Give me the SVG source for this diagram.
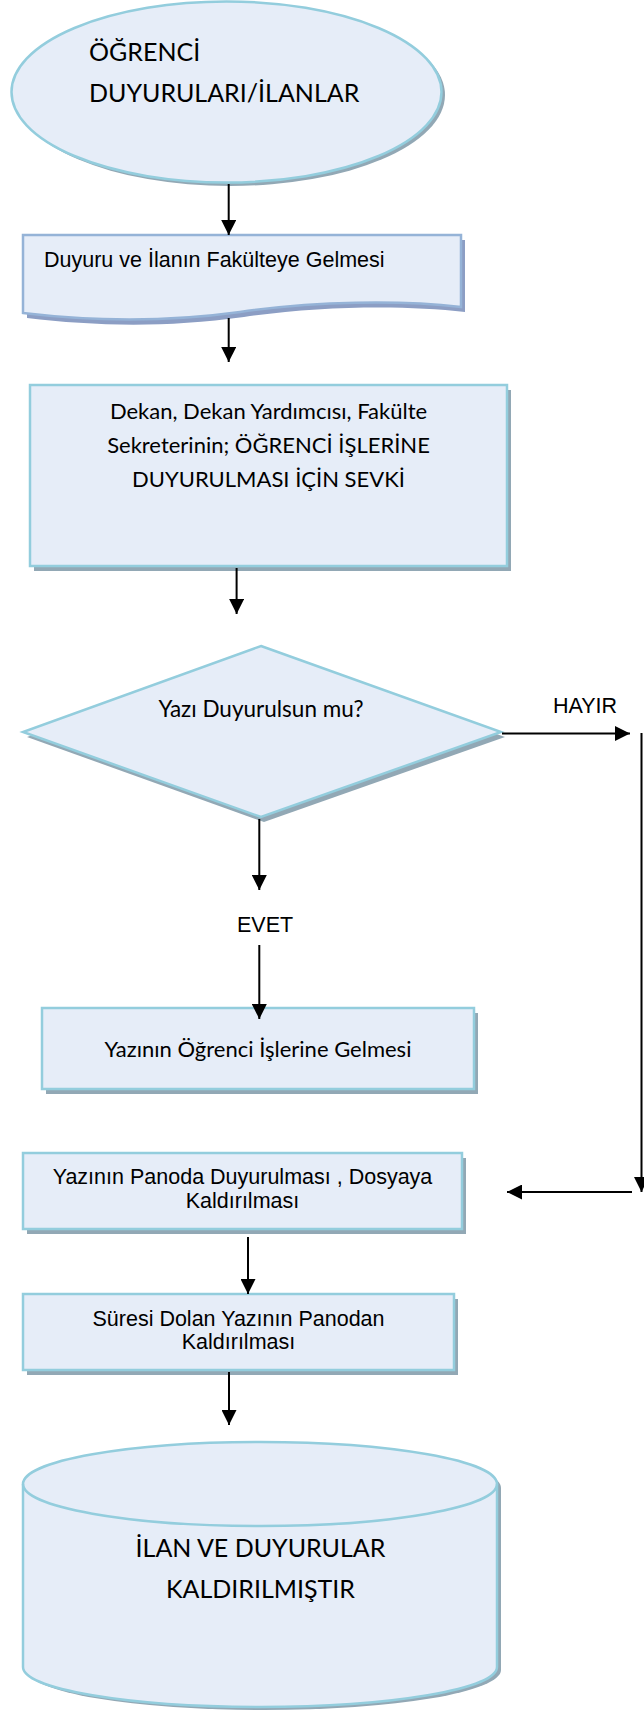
<svg xmlns="http://www.w3.org/2000/svg" width="644" height="1710" viewBox="0 0 644 1710">
<defs>
<marker id="ah" viewBox="0 0 15 15" refX="15" refY="7.5" markerWidth="15" markerHeight="15" markerUnits="userSpaceOnUse" orient="auto">
<path d="M0,0 L15,7.5 L0,15 Z" fill="#000"/>
</marker>
</defs>
<style>
.sh{fill:#92a8b5;stroke:none}
.sh2{fill:#8c9ec4;stroke:none}
.nd{fill:#e6edf8;stroke:#93cddd;stroke-width:2.5}
.nd2{fill:#e6edf8;stroke:#95b3d7;stroke-width:2.5}
.cal{font-family:Lato,"Open Sans",sans-serif;fill:#000}
.ar{font-family:"Liberation Sans",Arial,sans-serif;fill:#000;font-size:21.5px}
.cn{stroke:#000;stroke-width:2;fill:none;marker-end:url(#ah)}
</style>
<g id="start">
<ellipse class="sh" cx="230" cy="95" rx="215" ry="91"/>
<ellipse class="nd" cx="226.5" cy="92" rx="215" ry="90.5"/>
<text class="cal" font-size="25" x="89" y="61">ÖĞRENCİ</text>
<text class="cal" font-size="25" x="89" y="102">DUYURULARI/İLANLAR</text>
</g>
<g id="n1">
<path class="sh2" d="M27,240 H465 V312 C404,305 320,306 244,317 C164,328 94,326 27,318 Z"/>
<path class="nd2" d="M23,235 H461 V307 C400,300 316,301 240,312 C160,323 90,321 23,313 Z"/>
<text class="ar" x="44" y="267">Duyuru ve İlanın Fakülteye Gelmesi</text>
</g>
<g id="n2">
<rect class="sh" x="34" y="390" width="477" height="181"/>
<rect class="nd" x="30" y="385" width="477" height="181"/>
<text class="cal" font-size="22" text-anchor="middle" x="268.5" y="419">Dekan, Dekan Yardımcısı, Fakülte</text>
<text class="cal" font-size="22" text-anchor="middle" x="268.5" y="453">Sekreterinin; ÖĞRENCİ İŞLERİNE</text>
<text class="cal" font-size="22" text-anchor="middle" x="268.5" y="487">DUYURULMASI İÇİN SEVKİ</text>
</g>
<g id="decision">
<polygon class="sh" points="264,651 505,737 264,822 27,737"/>
<polygon class="nd" points="261,646 501,732 261,817 23,732"/>
<text class="cal" font-size="22.5" text-anchor="middle" x="261" y="717">Yazı Duyurulsun mu?</text>
</g>
<g id="n3">
<rect class="sh" x="46" y="1013" width="432" height="81"/>
<rect class="nd" x="42" y="1008" width="432" height="81"/>
<text class="cal" font-size="22" text-anchor="middle" x="258" y="1057">Yazının Öğrenci İşlerine Gelmesi</text>
</g>
<g id="n4">
<rect class="sh" x="27" y="1158" width="439" height="76"/>
<rect class="nd" x="23" y="1153" width="439" height="76"/>
<text class="ar" text-anchor="middle" x="242.5" y="1184">Yazının Panoda Duyurulması , Dosyaya</text>
<text class="ar" text-anchor="middle" x="242.5" y="1208">Kaldırılması</text>
</g>
<g id="n5">
<rect class="sh" x="27" y="1299" width="431" height="76"/>
<rect class="nd" x="23" y="1294" width="431" height="76"/>
<text class="ar" text-anchor="middle" x="238.5" y="1326">Süresi Dolan Yazının Panodan</text>
<text class="ar" text-anchor="middle" x="238.5" y="1349">Kaldırılması</text>
</g>
<g id="end">
<path class="sh" d="M27,1488 A237,42 0 0 1 501,1488 V1670 A237,40 0 0 1 27,1670 Z"/>
<path class="nd" d="M23,1484 A237,42 0 0 1 497,1484 V1667 A237,40 0 0 1 23,1667 Z"/>
<path d="M23,1484 A237,42 0 0 0 497,1484" fill="none" stroke="#93cddd" stroke-width="2.5"/>
<text class="cal" font-size="25" text-anchor="middle" x="260.5" y="1557">İLAN VE DUYURULAR</text>
<text class="cal" font-size="25" text-anchor="middle" x="260.5" y="1598">KALDIRILMIŞTIR</text>
</g>
<g id="connectors">
<line class="cn" x1="228.7" y1="184" x2="228.7" y2="235"/>
<line class="cn" x1="228.7" y1="318" x2="228.7" y2="362"/>
<line class="cn" x1="236.6" y1="568" x2="236.6" y2="614"/>
<line class="cn" x1="259.3" y1="819" x2="259.3" y2="890"/>
<line class="cn" x1="259.3" y1="945" x2="259.3" y2="1019"/>
<line class="cn" x1="502" y1="733.5" x2="630" y2="733.5"/>
<line class="cn" x1="641.5" y1="733" x2="641.5" y2="1192"/>
<line class="cn" x1="632" y1="1192" x2="507" y2="1192"/>
<line class="cn" x1="248" y1="1237" x2="248" y2="1294"/>
<line class="cn" x1="229" y1="1372" x2="229" y2="1425"/>
<text class="ar" x="553" y="713">HAYIR</text>
<text class="ar" x="237" y="932">EVET</text>
</g>
</svg>
